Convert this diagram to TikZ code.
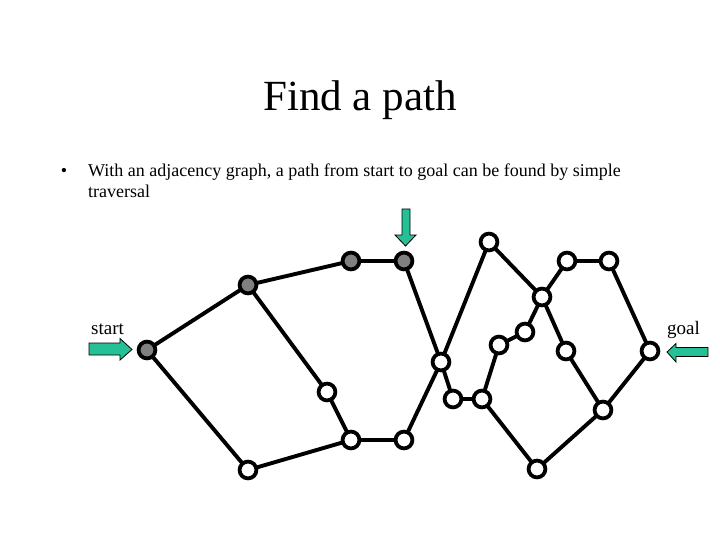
\documentclass[tikz,border=0pt]{standalone}
\usepackage{fontspec}
\setmainfont{Liberation Serif}
\usetikzlibrary{backgrounds}
\definecolor{arrowgreen}{RGB}{38,192,150}
\definecolor{visitgray}{RGB}{128,128,128}
\begin{document}
\begin{tikzpicture}[x=1pt,y=-1pt,
  vtx/.style={circle,draw=black,line width=3.8pt,fill=white,minimum size=16.8pt,inner sep=0pt},
  visited/.style={vtx,fill=visitgray},
  edge/.style={line width=3.9pt,black},
  marker/.style={fill=arrowgreen,draw=black,line width=0.8pt,line join=miter},
  body/.style={inner sep=0pt,font=\fontsize{18}{21}\selectfont},
  lbl/.style={inner sep=0pt,anchor=base west,font=\fontsize{19}{22}\selectfont}]
\useasboundingbox (0,0) rectangle (720,540);
% texts
\node[inner sep=0pt,anchor=base,font=\fontsize{43}{50}\selectfont] (title) at (360,111) {Find a path};
\node[body,anchor=base] (bullet) at (64,177) {•};
\node[body,anchor=base west] (line1) at (88,177) {With an adjacency graph, a path from start to goal can be found by simple};
\node[body,anchor=base west] (line2) at (88,198) {traversal};
\node[lbl] (startlbl) at (91,334) {start};
\node[lbl] (goallbl) at (667,334) {goal};
% vertices
\node[visited] (S) at (147,350) {};
\node[visited] (A) at (248,285) {};
\node[visited] (B) at (351,261) {};
\node[visited] (C) at (404,261) {};
\node[vtx] (D) at (441,362) {};
\node[vtx] (E) at (327,392) {};
\node[vtx] (F) at (351,440) {};
\node[vtx] (G) at (404,440) {};
\node[vtx] (H) at (248,470) {};
\node[vtx] (I) at (489,242) {};
\node[vtx] (J) at (542,297) {};
\node[vtx] (K) at (567,261) {};
\node[vtx] (L) at (609,261) {};
\node[vtx] (M) at (650,351) {};
\node[vtx] (N) at (603,410) {};
\node[vtx] (O) at (537,469) {};
\node[vtx] (P) at (482,399) {};
\node[vtx] (Q) at (453,399) {};
\node[vtx] (R) at (499,345) {};
\node[vtx] (T) at (525,332) {};
\node[vtx] (U) at (566,351) {};
% edges
\begin{scope}[on background layer]
\foreach \a/\b in {S/A,S/H,A/B,B/C,A/E,E/F,H/F,F/G,G/D,D/I,C/D,D/Q,Q/P,P/R,R/T,T/J,I/J,J/K,K/L,L/M,J/U,U/N,M/N,N/O,O/P}
  \draw[edge] (\a.center) -- (\b.center);
\end{scope}
% marker arrows
\draw[marker] (89,343) -- (120,343) -- (120,338.5) -- (132,349.5) -- (120,360) -- (120,355) -- (89,355) -- cycle;
\draw[marker] (708,347.5) -- (676,347.5) -- (676,343.5) -- (667,352) -- (676,362) -- (676,356.5) -- (708,356.5) -- cycle;
\draw[marker] (402,209) -- (410,209) -- (410,235) -- (416,235) -- (405.5,246) -- (395,235) -- (402,235) -- cycle;
\end{tikzpicture}
\end{document}
